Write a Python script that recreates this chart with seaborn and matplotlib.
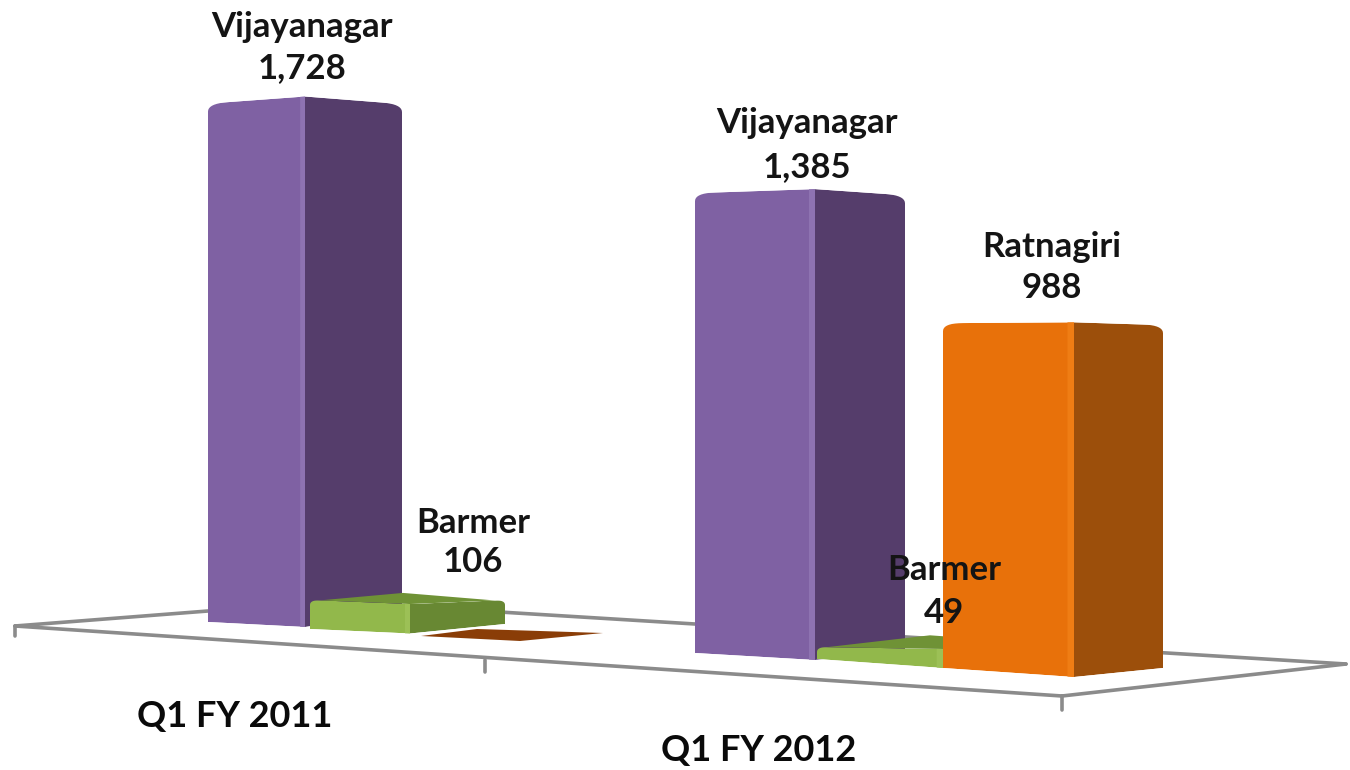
import numpy as np
import pandas as pd
import matplotlib
matplotlib.use("Agg")
import matplotlib.pyplot as plt
from matplotlib.patches import Polygon
from matplotlib.transforms import Transform
import seaborn as sns

# ---- data ----
periods = ["Q1 FY 2011", "Q1 FY 2011", "Q1 FY 2011", "Q1 FY 2012", "Q1 FY 2012", "Q1 FY 2012"]
plants = ["Vijayanagar", "Barmer", "Ratnagiri", "Vijayanagar", "Barmer", "Ratnagiri"]
values = [1728, 106, 0, 1385, 49, 988]
period_labels = ["Q1 FY 2011", "Q1 FY 2012"]

# ---- perspective layout (pixels), one entry per bar ----
# (x, floor y, pixels per unit) for the front-left, front-right, side-right and back-left floor corners
corners = [
    ((208, 622, .300), (305, 627, .307), (402, 613, .2945), (305, 606, .300)),
    ((310, 629, .274), (410, 633.5, .278), (505, 624, .226), (403, 612, .180)),
    ((421, 636, 0), (520, 641, 0), (603, 633, 0), (477, 629, 0)),
    ((695, 653, .332), (815, 660, .340), (905, 651, .329), (815, 640, .330)),
    ((817, 659, .245), (943, 668, .388), (1040, 660, .370), (930, 650, .300)),
    ((943, 668, .349), (1074, 677, .359), (1163, 668, .347), (1074, 655, .340)),
]
front_col = {"Vijayanagar": "#7f61a3", "Barmer": "#92b84b", "Ratnagiri": "#e8710a"}
side_col = {"Vijayanagar": "#553d6b", "Barmer": "#688833", "Ratnagiri": "#9c4f0b"}
top_col = {"Vijayanagar": "#5f4578", "Barmer": "#6f9236", "Ratnagiri": "#8a3d07"}
glow_col = {"Vijayanagar": "#8e73b1", "Barmer": "#9cc056", "Ratnagiri": "#ef7d14"}
INK = "#141414"
FLOOR = "#8b8b8b"


class Quad(Transform):
    """Maps one category bar (x in i-.5..i+.5, y in data units) on to a perspective face."""
    input_dims = output_dims = 2
    is_separable = False
    has_inverse = False

    def __init__(self, i, a, b):
        super().__init__()
        self.i, self.a, self.b = i, a, b

    def transform_non_affine(self, v):
        v = np.asarray(v, float)
        u = v[:, 0] - (self.i - .5)
        a, b = self.a, self.b
        px = a[0] + (b[0] - a[0]) * u
        py = a[1] + (b[1] - a[1]) * u - v[:, 1] * (a[2] + (b[2] - a[2]) * u)
        return np.column_stack([px, py])


def top_of(c, value):
    return np.array([c[0], c[1] - value * c[2]], float)


def shoulder(corner, towards, rx, ry):
    """Points of a rounded shoulder at a bar's top corner, from below it to along the top edge."""
    d = (towards - corner) / abs(towards[0] - corner[0])
    p0 = corner + np.array([0, ry])
    p2 = corner + d * rx
    t = np.linspace(0, 1, 10)[:, None]
    return (1 - t) ** 2 * p0 + 2 * t * (1 - t) * corner + t ** 2 * p2


sns.set_theme(style="white")
plt.rcParams["font.family"] = ["Lato", "DejaVu Sans"]
fig = plt.figure(figsize=(13.5, 7.7), dpi=100, facecolor="white")
ax = fig.add_axes([0, 0, 1, 1])

keys = [f"{p} {n}" for p, n in zip(periods, plants)]
df = pd.DataFrame({"key": keys, "period": periods, "plant": plants, "value": values})

sns.barplot(data=df, x="key", y="value", hue="key", order=keys, hue_order=keys, dodge=False, width=1,
            palette=[front_col[n] for n in plants], legend=False, ax=ax, saturation=1, linewidth=0)
n_front = len(ax.patches)
sns.barplot(data=df, x="key", y="value", hue="key", order=keys, hue_order=keys, dodge=False, width=1,
            palette=[side_col[n] for n in plants], legend=False, ax=ax, saturation=1, linewidth=0)
front = ax.patches[:n_front]
side = ax.patches[n_front:]

ax.set_xlim(0, 1350)
ax.set_ylim(770, 0)
ax.set_axis_off()

# floor of the chart
floor = [(15, 626), (208, 611), (1346, 664), (1062, 696)]
ax.add_patch(Polygon(floor, closed=True, fc="white", ec="none", zorder=1))
for (x0, y0), (x1, y1) in [((15, 626), (1062, 696)), ((15, 626), (208, 611)), ((402, 606), (1346, 664)),
                           ((1062, 696), (1346, 664)), ((15, 626), (15, 636)),
                           ((485, 660), (485, 672)), ((1062, 696), (1062, 710))]:
    ax.plot([x0, x1], [y0, y1], color=FLOOR, lw=2.6, solid_capstyle="round", zorder=2)

# each bar: faces go through the axes' transform, back bars first
for i, (c, v, n) in enumerate(zip(corners, values, plants)):
    z = 10 + i * 5
    fl, fr, sr, bl = c
    front[i].set_transform(Quad(i, fl, fr) + ax.transData)
    side[i].set_transform(Quad(i, fr, sr) + ax.transData)
    front[i].set_zorder(z + 2)
    side[i].set_zorder(z + 1)
    tl, tm, tr = top_of(fl, v), top_of(fr, v), top_of(sr, v)
    rx, ry = (20, 8) if v >= 500 else (10, 5)
    if v > 0:
        front_clip = np.vstack([[fl[:2]], shoulder(tl, tm, rx, ry), [tm], [fr[:2]]])
        side_clip = np.vstack([[fr[:2]], [tm], shoulder(tr, tm, rx, ry)[::-1], [sr[:2]]])
        front[i].set_clip_path(Polygon(front_clip, closed=True, transform=ax.transData))
        side[i].set_clip_path(Polygon(side_clip, closed=True, transform=ax.transData))
    if v < 500:  # the top face is only visible on the short bars
        dl = (tm - tl) / abs(tm[0] - tl[0]) * rx
        dr = (tm - tr) / abs(tm[0] - tr[0]) * rx
        if v == 0:
            dl = dr = 0
        pts = [tl + dl, tm, tr + dr, top_of(bl, v)]
        ax.add_patch(Polygon(pts, closed=True, fc=top_col[n], ec="none", zorder=z + 3))
    # light seam where front meets side
    q = Quad(i, fl, fr)
    if v > 0:
        strip = np.array([[i + .45, 0], [i + .5, 0], [i + .5, v], [i + .45, v]])
        ax.add_patch(Polygon(q.transform_non_affine(strip), closed=True, fc=glow_col[n], ec="none", zorder=z + 3))

# labels
label_pos = [(302, 27, 68), (473, 523, 562), None, (807, 123, 167), (944, 570, 613), (1052, 247, 288)]
for pos, n, v in zip(label_pos, plants, values):
    if pos is None:
        continue
    ax.text(pos[0], pos[1], n, ha="center", va="center", fontsize=25, fontweight="bold", color=INK, zorder=60)
    ax.text(pos[0], pos[2], f"{v:,}", ha="center", va="center", fontsize=25, fontweight="bold", color=INK, zorder=60)
for (x, y), t in zip([(235, 716), (759, 750)], period_labels):
    ax.text(x, y, t, ha="center", va="center", fontsize=26, fontweight="bold", color="#0a0a0a", zorder=60)

fig.savefig("out.png", dpi=100, facecolor="white")
